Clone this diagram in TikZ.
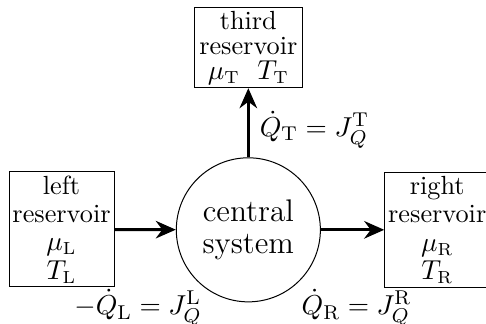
\documentclass[tikz,border=0pt]{standalone}
\usetikzlibrary{positioning,arrows.meta}

\begin{document}
\begin{tikzpicture}[font=\fontsize{10.5}{11.3}\selectfont, >={Stealth[length=8pt,width=7pt]},
  res/.style={draw, thin, align=center, minimum width=42pt, minimum height=#1, inner sep=1pt},
  res/.default=46pt,
  sys/.style={draw, thin, circle, minimum size=57.6pt, align=center, inner sep=0pt,
              font=\fontsize{12.5}{12.8}\selectfont},
  flow/.style={->, line width=1.2pt},
  lab/.style={font=\fontsize{11.3}{11.3}\selectfont, inner sep=1pt}]
\useasboundingbox (0,0) rectangle (6.83,4.54);
% -- reservoirs and the system
\node[sys] (central) at (3.49,1.31) {central\\system};
\node[res] (left) at (0.865,1.315) {left\\reservoir\\$\mu_\mathrm{L}$\\$T_\mathrm{L}$};
\node[res] (right) at (6.145,1.31) {right\\reservoir\\$\mu_\mathrm{R}$\\$T_\mathrm{R}$};
\node[res=32pt, minimum width=43.2pt, font=\fontsize{10.5}{10}\selectfont] (third) at (3.49,3.87)
  {third\\reservoir\\$\mu_\mathrm{T}\ \ T_\mathrm{T}$};
% -- heat currents
\draw[flow] (left) -- (central);
\draw[flow] (central) -- (right);
\draw[flow] (central) -- node[lab, right=3pt, pos=0.4] {$\dot{Q}_\mathrm{T}=J_Q^\mathrm{T}$} (third);
\node[lab] (qleft) at (1.94,0.21) {$-\dot{Q}_\mathrm{L}=J_Q^\mathrm{L}$};
\node[lab] (qright) at (5.01,0.21) {$\dot{Q}_\mathrm{R}=J_Q^\mathrm{R}$};
\end{tikzpicture}
\end{document}
